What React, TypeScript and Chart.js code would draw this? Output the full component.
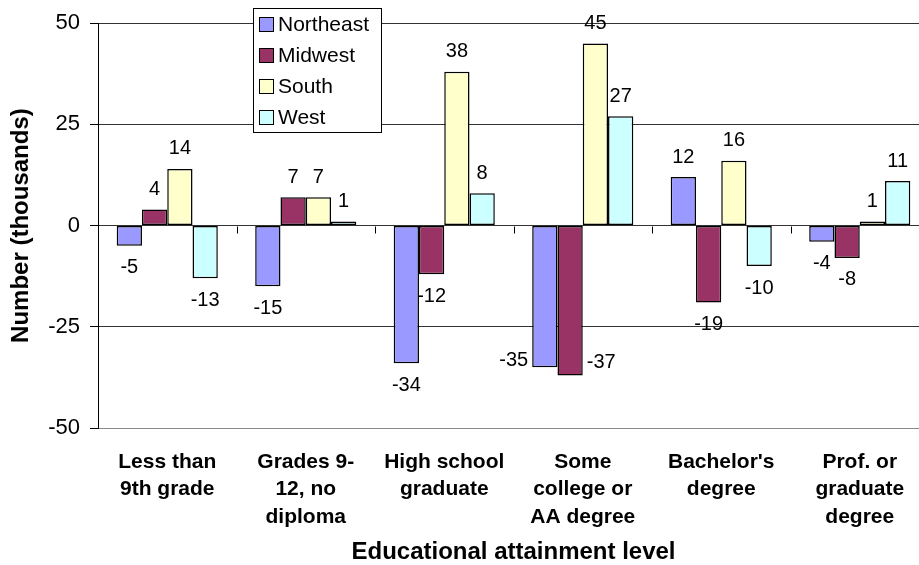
import React, { useEffect, useRef } from "react";
import { Chart, registerables } from "chart.js";

Chart.register(...registerables);

const categories: string[][] = [
  ["Less than", "9th grade"],
  ["Grades 9-", "12, no", "diploma"],
  ["High school", "graduate"],
  ["Some", "college or", "AA degree"],
  ["Bachelor's", "degree"],
  ["Prof. or", "graduate", "degree"],
];
const seriesNames = ["Northeast", "Midwest", "South", "West"];
const northeast = [-5, -15, -34, -35, 12, -4];
const midwest = [4, 7, -12, -37, -19, -8];
const south = [14, 7, 38, 45, 16, 1];
const west = [-13, 1, 8, 27, -10, 11];
const yTicks = [-50, -25, 0, 25, 50];
const seriesColors = ["#9999FF", "#993366", "#FFFFCC", "#CCFFFF"];

const FONT = "'Liberation Sans', Arial, Helvetica, sans-serif";

// labels that sit beside their bar instead of below it (dataset:index -> side)
const sideLabels: Record<string, "left" | "right"> = { "0:3": "left", "1:3": "right" };

const dataLabelPlugin = {
  id: "dataLabels",
  afterDatasetsDraw(chart: any) {
    const ctx = chart.ctx;
    ctx.save();
    ctx.font = `20px ${FONT}`;
    ctx.fillStyle = "#000";
    ctx.textBaseline = "middle";
    chart.data.datasets.forEach((ds: any, di: number) => {
      const meta = chart.getDatasetMeta(di);
      meta.data.forEach((bar: any, i: number) => {
        const v = ds.data[i];
        const txt = String(v);
        const side = sideLabels[`${di}:${i}`];
        const half = bar.width / 2;
        if (side === "left") {
          ctx.textAlign = "right";
          ctx.fillText(txt, bar.x - half - 4, bar.y - 7);
        } else if (side === "right") {
          ctx.textAlign = "left";
          ctx.fillText(txt, bar.x + half + 4, bar.y - 13);
        } else {
          ctx.textAlign = "center";
          ctx.fillText(txt, bar.x, v >= 0 ? bar.y - 20 : bar.y + 22);
        }
      });
    });
    ctx.restore();
  },
};

const zeroTickPlugin = {
  id: "zeroTicks",
  afterDatasetsDraw(chart: any) {
    const ctx = chart.ctx;
    const xs = chart.scales.x;
    const ys = chart.scales.y;
    const y0 = Math.round(ys.getPixelForValue(0)) + 0.5;
    ctx.save();
    ctx.strokeStyle = "#000";
    ctx.lineWidth = 1;
    for (let i = 1; i < categories.length; i++) {
      const x = Math.round((xs.getPixelForTick(i - 1) + xs.getPixelForTick(i)) / 2) + 0.5;
      ctx.beginPath();
      ctx.moveTo(x, y0);
      ctx.lineTo(x, y0 + 7);
      ctx.stroke();
    }
    ctx.restore();
  },
};

const legendPlugin = {
  id: "boxLegend",
  afterDraw(chart: any) {
    const ctx = chart.ctx;
    const bx = 253.5, by = 8.5, bw = 128, bh = 124;
    ctx.save();
    ctx.fillStyle = "#fff";
    ctx.fillRect(bx, by, bw, bh);
    ctx.strokeStyle = "#000";
    ctx.lineWidth = 1;
    ctx.strokeRect(bx, by, bw, bh);
    ctx.font = `21px ${FONT}`;
    ctx.textAlign = "left";
    ctx.textBaseline = "middle";
    chart.data.datasets.forEach((ds: any, i: number) => {
      const cy = 24.5 + i * 31;
      ctx.fillStyle = ds.backgroundColor;
      ctx.fillRect(259.5, cy - 7, 14, 14);
      ctx.strokeStyle = "#000";
      ctx.strokeRect(259.5, cy - 7, 14, 14);
      ctx.fillStyle = "#000";
      ctx.fillText(ds.label, 278, cy + 1);
    });
    ctx.restore();
  },
};

export default function App() {
  const ref = useRef<HTMLCanvasElement | null>(null);
  useEffect(() => {
    if (!ref.current) return;
    const values = [northeast, midwest, south, west];
    const chart = new Chart(ref.current, {
      type: "bar",
      data: {
        labels: categories,
        datasets: seriesNames.map((name, i) => ({
          label: name,
          data: values[i],
          backgroundColor: seriesColors[i],
          borderColor: "#000",
          borderWidth: 1.5,
          borderSkipped: false,
          categoryPercentage: 0.73,
          barPercentage: 1,
        })),
      },
      options: {
        animation: false,
        responsive: false,
        devicePixelRatio: 1,
        layout: { padding: { top: 22, left: 0, right: 0, bottom: 0 } },
        plugins: {
          legend: { display: false },
          tooltip: { enabled: false },
        },
        scales: {
          x: {
            type: "category",
            grid: { display: false, drawTicks: false },
            border: { display: false },
            ticks: {
              color: "#000",
              font: { family: FONT, size: 21, weight: "bold", lineHeight: 1.31 },
              padding: 20,
              maxRotation: 0,
              minRotation: 0,
              autoSkip: false,
            },
            title: {
              display: true,
              text: "Educational attainment level",
              color: "#000",
              font: { family: FONT, size: 24, weight: "bold" },
              padding: { top: 0, bottom: -2 },
            },
            afterFit: (s: any) => {
              s.height = 137;
            },
          },
          y: {
            min: -50,
            max: 50,
            afterBuildTicks: (s: any) => {
              s.ticks = yTicks.map((v) => ({ value: v }));
            },
            ticks: {
              color: "#000",
              font: { family: FONT, size: 22 },
              padding: 10,
            },
            grid: {
              color: (c: any) => (c.tick && c.tick.value === -50 ? "#8a8a8a" : "#333"),
              tickColor: "#000",
              tickLength: 8,
              lineWidth: 1,
            },
            border: { display: true, color: "#000", width: 1 },
            title: {
              display: true,
              text: "Number (thousands)",
              color: "#000",
              font: { family: FONT, size: 24, weight: "bold" },
              padding: { top: 7, bottom: 0 },
            },
            afterFit: (s: any) => {
              s.width = 98;
            },
          },
        },
      },
      plugins: [zeroTickPlugin, dataLabelPlugin, legendPlugin],
    });
    return () => chart.destroy();
  }, []);
  return (
    <div
      style={{
        position: "absolute",
        left: 0,
        top: 0,
        width: 919,
        height: 565,
        overflow: "hidden",
        background: "#fff",
      }}
    >
      <canvas ref={ref} width={929} height={565} style={{ width: 929, height: 565, display: "block" }} />
    </div>
  );
}
